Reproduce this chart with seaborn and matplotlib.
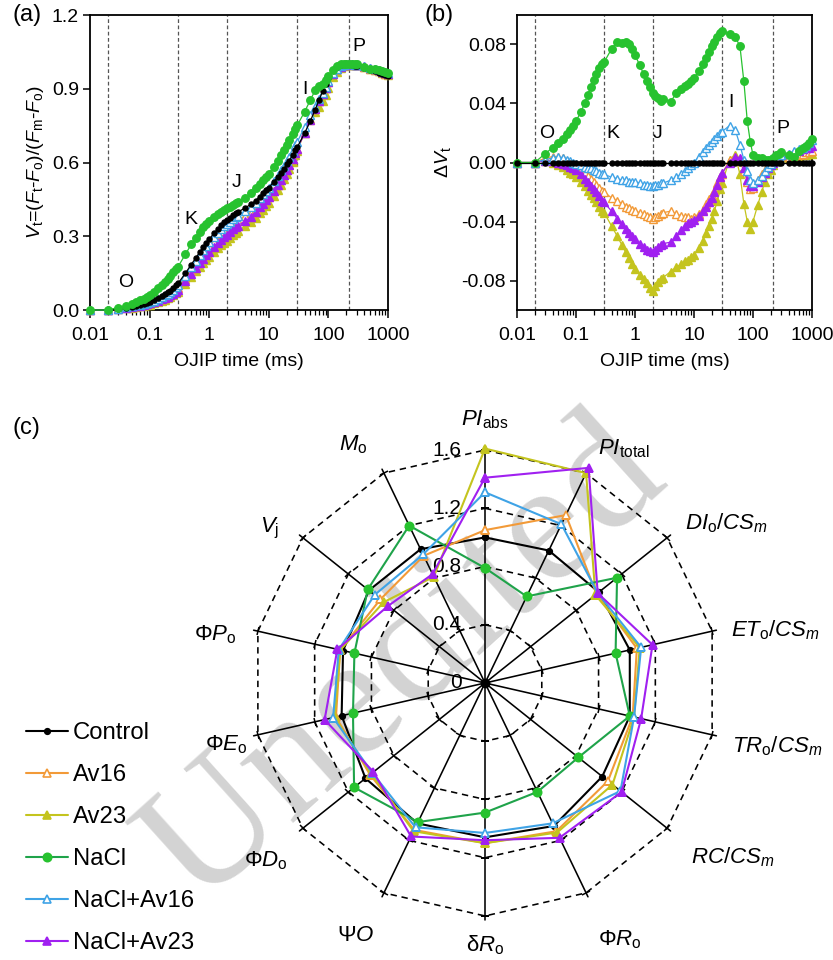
import numpy as np
import matplotlib
matplotlib.use("Agg")
import matplotlib.pyplot as plt
import seaborn as sns
from matplotlib.ticker import FixedLocator, FixedFormatter, LogLocator, NullFormatter
from matplotlib.markers import MarkerStyle
from matplotlib.transforms import Affine2D

# ---------------- data ----------------
series_names = ["Control", "Av16", "Av23", "NaCl", "NaCl+Av16", "NaCl+Av23"]

times_ms = [0.01, 0.02, 0.03, 0.04, 0.05, 0.06, 0.07, 0.08, 0.09, 0.1,
            0.12, 0.14, 0.16, 0.18, 0.2, 0.22, 0.25, 0.28, 0.3, 0.4,
            0.5, 0.6, 0.7, 0.8, 0.9, 1.0, 1.2, 1.4, 1.6, 1.8,
            2.0, 2.2, 2.5, 2.8, 3.0, 4, 5, 6, 7, 8,
            9, 10, 12, 14, 16, 18, 20, 22, 25, 28,
            30, 40, 50, 60, 70, 80, 90, 100, 120, 140,
            160, 180, 200, 220, 250, 280, 300, 400, 500, 600,
            700, 800, 900, 1000]

vt_control = [0.000, 0.000, 0.004, 0.008, 0.012, 0.016, 0.020, 0.024, 0.028, 0.032,
              0.040, 0.048, 0.056, 0.064, 0.072, 0.079, 0.090, 0.101, 0.108, 0.150,
              0.185, 0.213, 0.237, 0.256, 0.273, 0.288, 0.312, 0.330, 0.345, 0.357,
              0.367, 0.375, 0.385, 0.393, 0.398, 0.415, 0.430, 0.445, 0.460, 0.474,
              0.487, 0.498, 0.520, 0.540, 0.558, 0.575, 0.592, 0.608, 0.630, 0.650,
              0.662, 0.720, 0.770, 0.815, 0.855, 0.890, 0.920, 0.945, 0.975, 0.990,
              0.997, 1.000, 1.000, 0.999, 0.997, 0.994, 0.992, 0.985, 0.978, 0.972,
              0.966, 0.960, 0.955, 0.950]

dvt_av16 = [0.000, 0.000, 0.003, 0.004, 0.004, 0.003, 0.001, -0.001, -0.002, -0.003,
            -0.005, -0.007, -0.009, -0.011, -0.013, -0.015, -0.017, -0.019, -0.020, -0.024,
            -0.026, -0.028, -0.030, -0.031, -0.032, -0.033, -0.034, -0.035, -0.036, -0.037,
            -0.038, -0.037, -0.036, -0.035, -0.034, -0.033, -0.035, -0.036, -0.037, -0.037,
            -0.038, -0.037, -0.035, -0.032, -0.028, -0.025, -0.022, -0.019, -0.014, -0.010,
            -0.008, 0.002, 0.004, 0.001, -0.006, -0.013, -0.018, -0.017, -0.012, -0.008,
            -0.005, -0.003, -0.001, 0.001, 0.003, 0.004, 0.005, 0.004, 0.004, 0.005,
            0.006, 0.007, 0.007, 0.008]

dvt_av23 = [0.000, 0.000, 0.001, 0.000, -0.002, -0.003, -0.005, -0.007, -0.008, -0.010,
            -0.013, -0.016, -0.019, -0.022, -0.024, -0.027, -0.030, -0.033, -0.034, -0.043,
            -0.050, -0.056, -0.061, -0.065, -0.069, -0.072, -0.076, -0.079, -0.082, -0.085,
            -0.087, -0.084, -0.081, -0.079, -0.078, -0.074, -0.071, -0.069, -0.067, -0.066,
            -0.064, -0.063, -0.058, -0.053, -0.048, -0.043, -0.038, -0.033, -0.026, -0.018,
            -0.014, 0.002, 0.005, -0.008, -0.028, -0.040, -0.045, -0.040, -0.029, -0.020,
            -0.013, -0.008, -0.005, -0.002, 0.001, 0.003, 0.004, 0.003, 0.003, 0.004,
            0.005, 0.005, 0.006, 0.006]

dvt_nacl = [0.000, 0.000, 0.006, 0.010, 0.013, 0.016, 0.019, 0.022, 0.025, 0.028,
            0.034, 0.040, 0.046, 0.051, 0.056, 0.060, 0.064, 0.067, 0.068, 0.077,
            0.082, 0.081, 0.082, 0.080, 0.077, 0.073, 0.066, 0.060, 0.055, 0.051,
            0.047, 0.045, 0.044, 0.042, 0.043, 0.041, 0.047, 0.050, 0.052, 0.053,
            0.055, 0.057, 0.062, 0.067, 0.071, 0.075, 0.079, 0.082, 0.085, 0.088,
            0.089, 0.087, 0.085, 0.079, 0.055, 0.028, 0.014, 0.005, 0.003, 0.003,
            0.002, 0.002, 0.002, 0.003, 0.005, 0.006, 0.007, 0.005, 0.004, 0.008,
            0.010, 0.011, 0.013, 0.016]

dvt_nacl_av16 = [0.000, 0.000, 0.002, 0.003, 0.004, 0.003, 0.002, 0.001, 0.000, -0.001,
                 -0.002, -0.003, -0.004, -0.004, -0.005, -0.006, -0.007, -0.008, -0.008, -0.010,
                 -0.011, -0.012, -0.012, -0.013, -0.013, -0.013, -0.014, -0.015, -0.015, -0.016,
                 -0.016, -0.015, -0.015, -0.014, -0.014, -0.012, -0.010, -0.008, -0.006, -0.004,
                 -0.002, 0.000, 0.004, 0.007, 0.010, 0.012, 0.014, 0.016, 0.018, 0.020,
                 0.021, 0.025, 0.022, 0.012, 0.002, -0.006, -0.012, -0.014, -0.012, -0.009,
                 -0.006, -0.003, -0.001, 0.001, 0.003, 0.004, 0.005, 0.006, 0.008, 0.009,
                 0.010, 0.011, 0.013, 0.015]

dvt_nacl_av23 = [0.000, 0.000, 0.001, 0.001, 0.000, -0.001, -0.002, -0.003, -0.004, -0.005,
                 -0.008, -0.011, -0.013, -0.016, -0.018, -0.020, -0.023, -0.026, -0.027, -0.033,
                 -0.038, -0.042, -0.045, -0.048, -0.050, -0.052, -0.055, -0.057, -0.059, -0.060,
                 -0.061, -0.059, -0.057, -0.056, -0.055, -0.054, -0.050, -0.046, -0.043, -0.041,
                 -0.040, -0.039, -0.036, -0.033, -0.030, -0.027, -0.024, -0.020, -0.015, -0.010,
                 -0.007, 0.000, 0.004, 0.003, -0.004, -0.012, -0.016, -0.016, -0.013, -0.010,
                 -0.007, -0.004, -0.002, 0.000, 0.003, 0.004, 0.005, 0.006, 0.007, 0.008,
                 0.009, 0.010, 0.010, 0.011]

phase_times = [0.02, 0.3, 2, 30, 220]
phase_names = ["O", "K", "J", "I", "P"]

x_ticks = [0.01, 0.1, 1, 10, 100, 1000]
x_tick_labels = ["0.01", "0.1", "1", "10", "100", "1000"]
ya_ticks = [0.0, 0.3, 0.6, 0.9, 1.2]
ya_tick_labels = ["0.0", "0.3", "0.6", "0.9", "1.2"]
yb_ticks = [-0.08, -0.04, 0.0, 0.04, 0.08]
yb_tick_labels = ["-0.08", "-0.04", "0.00", "0.04", "0.08"]

radar_params = [r"$PI_{\rm abs}$", r"$PI_{\rm total}$", r"$DI_{\rm o}/CS_m$", r"$ET_{\rm o}/CS_m$",
                r"$TR_{\rm o}/CS_m$", r"$RC/CS_m$", "Φ" + r"$R_{\rm o}$", "δ" + r"$R_{\rm o}$",
                "Ψ" + r"$O$", "Φ" + r"$D_{\rm o}$", "Φ" + r"$E_{\rm o}$", "Φ" + r"$P_{\rm o}$",
                r"$V_{\rm j}$", r"$M_{\rm o}$"]
radar_control = [1.00, 1.01, 1.00, 1.02, 1.02, 1.03, 1.09, 1.06, 1.07, 1.05, 1.01, 1.00, 1.02, 1.02]
radar_av16 = [1.05, 1.28, 0.98, 1.07, 1.04, 1.08, 1.13, 1.10, 1.12, 1.01, 1.05, 1.02, 0.92, 0.97]
radar_av23 = [1.61, 1.60, 0.97, 1.09, 1.05, 1.12, 1.14, 1.10, 1.13, 1.00, 1.06, 1.02, 0.89, 0.81]
radar_nacl = [0.79, 0.66, 1.16, 0.92, 1.02, 0.82, 0.83, 0.89, 1.06, 1.15, 0.93, 0.92, 1.03, 1.20]
radar_nacl_av16 = [1.31, 1.21, 0.99, 1.10, 1.05, 1.19, 1.07, 1.03, 1.10, 0.99, 1.07, 1.03, 0.97, 0.98]
radar_nacl_av23 = [1.41, 1.64, 0.99, 1.18, 1.10, 1.20, 1.18, 1.08, 1.17, 0.98, 1.13, 1.04, 0.85, 0.83]
radar_rings = [0.4, 0.8, 1.2, 1.6]
radar_tick_values = [0.0, 0.4, 0.8, 1.2, 1.6]
radar_tick_labels = ["0", "0.4", "0.8", "1.2", "1.6"]

# ---------------- derived ----------------
dvt = {"Control": [v - v for v in vt_control], "Av16": dvt_av16, "Av23": dvt_av23,
       "NaCl": dvt_nacl, "NaCl+Av16": dvt_nacl_av16, "NaCl+Av23": dvt_nacl_av23}
vt = {k: [c + d for c, d in zip(vt_control, dvt[k])] for k in series_names}
radar = {"Control": radar_control, "Av16": radar_av16, "Av23": radar_av23,
         "NaCl": radar_nacl, "NaCl+Av16": radar_nacl_av16, "NaCl+Av23": radar_nacl_av23}

# ---------------- style ----------------
sns.set_style("ticks")
plt.rcParams['font.family'] = ['Liberation Sans', 'DejaVu Sans']
plt.rcParams['mathtext.fontset'] = 'custom'
plt.rcParams['mathtext.rm'] = 'Liberation Sans'
plt.rcParams['mathtext.it'] = 'Liberation Sans:italic'
plt.rcParams['mathtext.bf'] = 'Liberation Sans:bold'
plt.rcParams['axes.unicode_minus'] = False
for key in ['text.color', 'axes.labelcolor', 'xtick.color', 'ytick.color', 'axes.edgecolor']:
    plt.rcParams[key] = 'black'

styles = {
    "Control":   dict(c="#000000", lc="#000000", m="o", mfc="#000000", ms=3.6),
    "Av16":      dict(c="#F29A38", lc="#F29A38", m="^", mfc="white", ms=5.2),
    "Av23":      dict(c="#C4C41E", lc="#C4C41E", m="^", mfc="#C4C41E", ms=5.2),
    "NaCl":      dict(c="#27C22F", lc="#1FA34A", m="o", mfc="#27C22F", ms=5.4),
    "NaCl+Av16": dict(c="#3FA3E6", lc="#3FA3E6", m="^", mfc="white", ms=5.2),
    "NaCl+Av23": dict(c="#A020F0", lc="#A020F0", m="^", mfc="#A020F0", ms=5.2),
}

fig = plt.figure(figsize=(8.33, 9.6), dpi=100)
fig.patch.set_facecolor("white")
W, H = 833.0, 960.0

axA = fig.add_axes([90 / W, 1 - 310 / H, 298 / W, 295 / H])
axB = fig.add_axes([517 / W, 1 - 310 / H, 295 / W, 295 / H])

order_a = ["Av23", "Av16", "NaCl+Av23", "NaCl+Av16", "Control", "NaCl"]
order_b = ["Av23", "Av16", "NaCl+Av23", "NaCl+Av16", "NaCl", "Control"]

for ax, data, order in ((axA, vt, order_a), (axB, dvt, order_b)):
    for xv in phase_times:
        ax.axvline(xv, color="#555555", ls=(0, (3, 2)), lw=0.9, zorder=0)
    for i, name in enumerate(order):
        st = styles[name]
        sns.lineplot(x=times_ms, y=data[name], ax=ax, sort=False, estimator=None,
                     color=st["c"], linewidth=0.9, marker=st["m"], markersize=st["ms"],
                     markerfacecolor=st["mfc"], markeredgecolor=st["c"], markeredgewidth=1.0,
                     clip_on=False, zorder=3 + i)
    ax.set_xscale("log")
    ax.set_xlim(0.01, 1000)
    ax.xaxis.set_major_locator(FixedLocator(x_ticks))
    ax.xaxis.set_major_formatter(FixedFormatter(x_tick_labels))
    ax.xaxis.set_minor_locator(LogLocator(base=10, subs=np.arange(2, 10)))
    ax.xaxis.set_minor_formatter(NullFormatter())
    ax.tick_params(which="major", direction="out", length=5, width=1.1, labelsize=14,
                   top=False, right=False, pad=3)
    ax.tick_params(which="major", axis="x", length=6, pad=6)
    ax.tick_params(which="minor", axis="x", direction="out", length=3.5, width=0.9, top=False)
    ax.tick_params(which="minor", axis="y", left=False, right=False)
    for s in ax.spines.values():
        s.set_visible(True)
        s.set_linewidth(1.3)
        s.set_color("black")
    ax.set_xlabel("OJIP time (ms)", fontsize=14, labelpad=7)

axA.set_ylim(0, 1.2)
axA.yaxis.set_major_locator(FixedLocator(ya_ticks))
axA.yaxis.set_major_formatter(FixedFormatter(ya_tick_labels))
axA.set_ylabel(r"$V_{\rm t}$=($F_{\rm t}$-$F_{\rm o}$)/($F_{\rm m}$-$F_{\rm o}$)", fontsize=14, labelpad=4)
for name, (px, py) in zip(phase_names, [(0.039, 0.11), (0.5, 0.37), (2.9, 0.52), (40, 0.895), (330, 1.07)]):
    axA.text(px, py, name, fontsize=14, ha="center", va="center")

axB.set_ylim(-0.1, 0.1)
axB.yaxis.set_major_locator(FixedLocator(yb_ticks))
axB.yaxis.set_major_formatter(FixedFormatter(yb_tick_labels))
axB.set_ylabel(r"Δ$V_{\rm t}$", fontsize=14, labelpad=6)
for name, (px, py) in zip(phase_names, [(0.032, 0.02), (0.42, 0.02), (2.45, 0.02), (42, 0.041), (322, 0.023)]):
    axB.text(px, py, name, fontsize=14, ha="center", va="center")

# ---------------- radar ----------------
cx, cy, ppu, RMAX = 485.0, 683.0, 145.6, 2.2
rad_px = RMAX * ppu
axC = fig.add_axes([(cx - rad_px) / W, (H - cy - rad_px) / H, 2 * rad_px / W, 2 * rad_px / H],
                   projection="polar")
axC.set_theta_zero_location("N")
axC.set_theta_direction(-1)
axC.grid(False)
axC.set_xticks([])
axC.set_yticks([])
axC.spines["polar"].set_visible(False)
axC.patch.set_alpha(0)

n = len(radar_params)
theta = np.linspace(0, 2 * np.pi, n, endpoint=False)
theta_closed = np.append(theta, theta[0])

for r in radar_rings:
    axC.plot(theta_closed, [r] * (n + 1), color="black", ls=(0, (4, 3)), lw=1.15, zorder=1)
for t in theta:
    axC.plot([t, t], [0, 1.63], color="black", lw=1.15, zorder=1)
    rot = 90 - np.degrees(t)
    mk = MarkerStyle("|", transform=Affine2D().rotate_deg(rot))
    axC.plot([t] * len(radar_rings), radar_rings, ls="none", marker=mk, ms=6, mew=1.1,
             color="black", zorder=1)
axC.plot([0], [0], marker="o", ms=6, color="black", zorder=2)

handles = []
for i, name in enumerate(series_names):
    st = styles[name]
    vals = radar[name] + [radar[name][0]]
    sns.lineplot(x=theta_closed, y=vals, ax=axC, sort=False, estimator=None,
                 color=st["lc"], linewidth=1.5, marker=st["m"],
                 markersize=st["ms"] + (0.6 if name != "Control" else 0.4),
                 markerfacecolor=st["mfc"], markeredgecolor=st["c"], markeredgewidth=1.2,
                 zorder=4 + i)
    handles.append(axC.lines[-1])
axC.set_ylim(0, RMAX)

for v, s in zip(radar_tick_values, radar_tick_labels):
    axC.annotate(s, xy=(0, v), xytext=(-17, 0), textcoords="offset points",
                 ha="right", va="center", fontsize=15, zorder=3)

label_r = [1.81, 1.87, 1.99, 2.03, 2.05, 2.08, 1.99, 1.80, 1.95, 1.94, 1.83, 1.88, 1.82, 1.87]
label_dtheta = [0, 5, 5, 2.5, -0.7, -3.5, -2, 0, 1.3, -0.4, -0.6, -2.6, -2.8, -3.3]
for t, r, dt, s in zip(theta, label_r, label_dtheta, radar_params):
    axC.annotate(s, xy=(t + np.radians(dt), r), ha="center", va="center", fontsize=16,
                 annotation_clip=False)

leg = fig.legend(handles, series_names, loc="upper left", bbox_to_anchor=(26 / W, 1 - 722 / H),
                 frameon=False, fontsize=17.2, handlelength=1.75, handletextpad=0.2,
                 labelspacing=0.84, borderpad=0, borderaxespad=0)

fig.text(13 / W, 1 - 15 / H, "(a)", fontsize=17, ha="left", va="center")
fig.text(425 / W, 1 - 15 / H, "(b)", fontsize=17, ha="left", va="center")
fig.text(13 / W, 1 - 428 / H, "(c)", fontsize=17, ha="left", va="center")

fig.text(405 / W, 1 - 662 / H, "Unedited", rotation=42, fontsize=125, family="Liberation Serif",
         color="#d3d3d3", ha="center", va="center", zorder=-1)

fig.savefig("out.png", dpi=100, facecolor="white")
